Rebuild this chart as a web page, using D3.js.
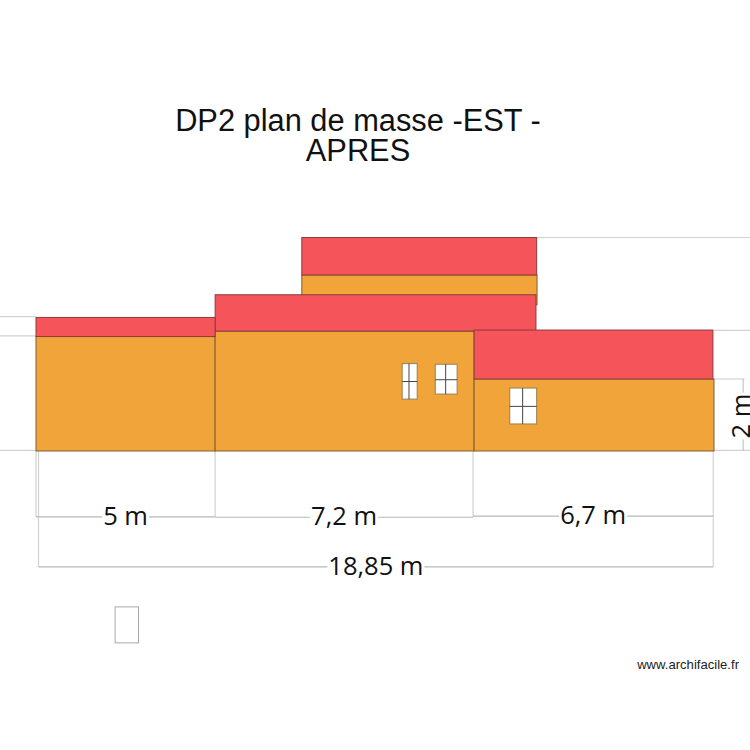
<!DOCTYPE html>
<html>
<head>
<meta charset="utf-8">
<script src="https://cdn.jsdelivr.net/npm/d3@7"></script>
<style>
  html, body { margin: 0; padding: 0; background: #fff; }
  svg { display: block; }
</style>
</head>
<body>
<svg id="plan" width="750" height="750"></svg>
<script>
// everything in metres: x from the left end of the facade, y above the ground line
const titleLines = ['DP2 plan de masse -EST -', 'APRES'];
const credit = 'www.archifacile.fr';

// [x0, x1, y0, y1]
const walls = [
  [7.39, 13.93, 4.06, 4.89],
  [0, 4.98, 0, 3.18],
  [4.98, 12.18, 0, 3.33],
  [12.18, 18.85, 0, 2]
];
const roofs = [
  [7.39, 13.92, 4.89, 5.93],
  [4.98, 13.9, 3.33, 4.34],
  [0, 4.98, 3.18, 3.71],
  [12.18, 18.82, 2, 3.36]
];
// [x0, x1, y0, y1, mullion x, transom y]
const windows = [
  [10.18, 10.6, 1.44, 2.43, 10.37, 1.93],
  [11.1, 11.71, 1.58, 2.41, 11.39, 1.98],
  [13.17, 13.92, 0.75, 1.75, 13.53, 1.24]
];
const emptyBox = [2.2, 2.85, -5.33, -4.33];

// [x0, x1, y]
const guidesH = [
  [13.93, 19.85, 5.93],
  [18.85, 19.85, 3.35],
  [18.85, 19.7, 2],
  [18.85, 19.85, 0.02],
  [-1, 0, 3.73],
  [-1, 0, 3.2],
  [-1, 0, 0.02]
];
// [x, y0, y1]
const guidesV = [
  [0, 0, -1.83],
  [0.07, 0, -3.22],
  [4.98, 0, -1.83],
  [12.15, 0, -1.83],
  [18.83, 0, -3.22]
];
// [x0, x1, y, label]
const dimsH = [
  [0, 4.98, -1.83, '5 m'],
  [4.98, 12.15, -1.84, '7,2 m'],
  [12.15, 18.83, -1.81, '6,7 m'],
  [0.07, 18.83, -3.22, '18,85 m']
];
const dimV = [19.66, 0, 2, '2 m'];

const x = d3.scaleLinear().domain([0, 18.85]).range([36, 714]);
const y = d3.scaleLinear().domain([0, 1]).range([451, 415]);

const svg = d3.select('#plan');

// guide lines go under the building
const guideColor = '#d2d2d2';
svg.selectAll('.guide-h').data(guidesH).join('line')
  .attr('x1', d => x(d[0])).attr('x2', d => x(d[1]))
  .attr('y1', d => y(d[2])).attr('y2', d => y(d[2]))
  .attr('stroke', guideColor).attr('stroke-width', 1.2);
svg.selectAll('.guide-v').data(guidesV).join('line')
  .attr('x1', d => x(d[0])).attr('x2', d => x(d[0]))
  .attr('y1', d => y(d[1])).attr('y2', d => y(d[2]))
  .attr('stroke', guideColor).attr('stroke-width', 1.2);

function drawRects(data, fill, stroke) {
  return svg.append('g').selectAll('rect').data(data).join('rect')
    .attr('x', d => x(d[0]))
    .attr('y', d => y(d[3]))
    .attr('width', d => x(d[1]) - x(d[0]))
    .attr('height', d => y(d[2]) - y(d[3]))
    .attr('fill', fill)
    .attr('stroke', stroke)
    .attr('stroke-width', 1);
}

drawRects(walls, '#f0a43a', '#80602f');
drawRects(roofs, '#f5555a', '#8a3c3c');

// windows
drawRects(windows, '#fff', '#a58a5a').attr('stroke-width', 1.2);
svg.append('g').selectAll('line').data(windows).join('line')
  .attr('x1', d => x(d[4])).attr('x2', d => x(d[4]))
  .attr('y1', d => y(d[3])).attr('y2', d => y(d[2]))
  .attr('stroke', '#444');
svg.append('g').selectAll('line').data(windows).join('line')
  .attr('x1', d => x(d[0])).attr('x2', d => x(d[1]))
  .attr('y1', d => y(d[5])).attr('y2', d => y(d[5]))
  .attr('stroke', '#444');

drawRects([emptyBox], '#fff', '#a8a8a8');

// dimension lines, label sits on a white patch that cuts the line
const dimFont = '"Open Sans", "Noto Sans", sans-serif';
const dimSize = 25.5;
const dimG = svg.append('g');
dimsH.forEach(d => {
  dimG.append('line')
    .attr('x1', x(d[0])).attr('x2', x(d[1]))
    .attr('y1', y(d[2])).attr('y2', y(d[2]))
    .attr('stroke', '#b8b8b8')
    .attr('stroke-width', 1.2);
  const patch = dimG.append('rect').attr('fill', '#fff');
  const label = dimG.append('text')
    .attr('x', (x(d[0]) + x(d[1])) / 2)
    .attr('y', y(d[2]) + 8)
    .attr('text-anchor', 'middle')
    .attr('font-family', dimFont)
    .attr('font-size', dimSize)
    .attr('fill', '#111')
    .text(d[3]);
  const box = label.node().getBBox();
  patch.attr('x', box.x - 1).attr('y', y(d[2]) - 3)
    .attr('width', box.width + 2).attr('height', 6);
});

// the upright 2 m on the right edge, it touches the picture border in the original
dimG.append('line')
  .attr('x1', x(dimV[0])).attr('x2', x(dimV[0]))
  .attr('y1', y(dimV[1])).attr('y2', y(dimV[2]))
  .attr('stroke', '#b8b8b8');
const vx = x(dimV[0]);
const vy = (y(dimV[1]) + y(dimV[2])) / 2;
const vPatch = dimG.append('rect').attr('fill', '#fff');
const vLabel = dimG.append('text')
  .attr('transform', `translate(${vx + 7},${vy + 1}) rotate(-90)`)
  .attr('text-anchor', 'middle')
  .attr('font-family', dimFont)
  .attr('font-size', dimSize)
  .attr('fill', '#111')
  .text(dimV[3]);
const vLen = vLabel.node().getComputedTextLength();
vPatch.attr('x', vx - 3).attr('y', vy + 1 - vLen / 2 - 1)
  .attr('width', 6).attr('height', vLen + 2);

// title
svg.append('g').selectAll('text').data(titleLines).join('text')
  .attr('x', 358)
  .attr('y', (d, i) => 131 + i * 30)
  .attr('text-anchor', 'middle')
  .attr('font-family', '"Liberation Sans", Arial, sans-serif')
  .attr('font-size', 30.8)
  .attr('fill', '#111')
  .text(d => d);

svg.append('text')
  .attr('x', 739)
  .attr('y', 669)
  .attr('text-anchor', 'end')
  .attr('font-family', '"Liberation Sans", Arial, sans-serif')
  .attr('font-size', 13.1)
  .attr('fill', '#222')
  .text(credit);
</script>
</body>
</html>
